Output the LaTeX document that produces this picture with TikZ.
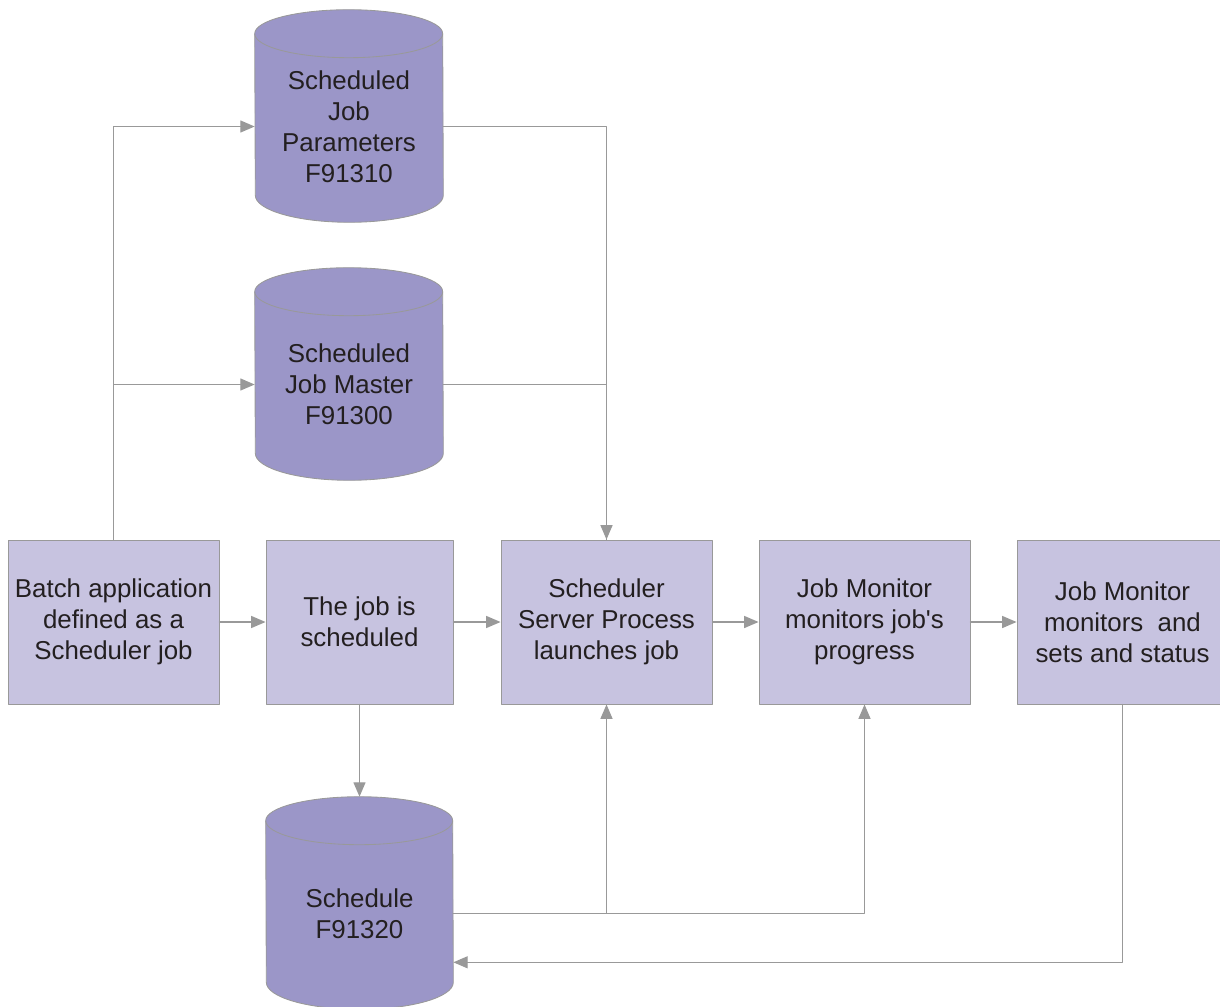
\documentclass[tikz,border=0pt]{standalone}
\usepackage{fontspec}
\setmainfont{Liberation Sans}
\usetikzlibrary{arrows.meta,calc,backgrounds}
\definecolor{boxfill}{HTML}{C7C3E0}
\definecolor{dbfill}{HTML}{9B96C8}
\definecolor{linegray}{HTML}{999999}
\definecolor{txt}{HTML}{231F20}
\begin{document}
\begin{tikzpicture}[x=0.025cm,y=0.025cm,line cap=round,line join=round,
  >={Triangle[length=0.36cm,width=0.3cm]},font=\fontsize{18.4}{22}\selectfont,
  box/.style={draw=linegray,line width=0.6pt,fill=boxfill,text=txt,align=center,
    minimum width=5.275cm,minimum height=4.1cm,inner sep=0pt},
  db/.style={text=txt,align=center,minimum width=4.7cm,minimum height=3.425cm,inner sep=0pt},
  dbline/.style={draw=linegray,line width=0.6pt},
  link/.style={draw=linegray,line width=0.9pt}]
\useasboundingbox (0,0) rectangle (1220,-1006);
% process boxes
\node[box] (bat) at (113.5,-622) {Batch application\\defined as a\\Scheduler job};
\node[box,minimum width=4.675cm] (job) at (359.5,-622) {The job is\\scheduled};
\node[box] (srv) at (606.5,-622) {Scheduler\\Server Process\\launches job};
\node[box] (mon) at (864.5,-622) {Job Monitor\\monitors job\textquotesingle s\\progress};
\node[box] (sta) at (1122.5,-622) {Job Monitor\\monitors\ \ and\\sets and status};
% tables
\node[db] (par) at (349,-126.5) {Scheduled\\Job\\Parameters\\F91310};
\node[db] (mas) at (349,-384.5) {Scheduled\\Job Master\\F91300};
\node[db,minimum width=4.675cm] (sch) at (359.5,-913.5) {Schedule\\F91320};
\begin{scope}[on background layer]
\foreach \n/\r in {par/94,mas/94,sch/93.5}{
  \draw[dbline,fill=dbfill] ($(\n.north west)+(0,24)$) arc[start angle=180,end angle=0,x radius=\r,y radius=24]
    -- (\n.south east) arc[start angle=0,end angle=-180,x radius=\r,y radius=27] -- cycle;
  \draw[dbline] ($(\n.north west)+(0,24)$) arc[start angle=180,end angle=360,x radius=\r,y radius=24];
}
\end{scope}
\coordinate (schtop) at ($(sch.north)+(0,48)$);
\coordinate (schin) at ($(sch.south east)+(0,20)$);
% connectors
\draw[link,->] (bat.north) |- (par.west);
\draw[link,->] (bat.north) |- (mas.west);
\draw[link,->] (par.east) -| (srv.north);
\draw[link] (mas.east) -| (srv.north);
\draw[link,->] (bat.east) -- (job.west);
\draw[link,->] (job.east) -- (srv.west);
\draw[link,->] (srv.east) -- (mon.west);
\draw[link,->] (mon.east) -- (sta.west);
\draw[link,->] (job.south) -- (schtop);
\draw[link,->] (sch.east) -| (srv.south);
\draw[link,->] (sch.east) -| (mon.south);
\draw[link,->] (sta.south) |- (schin);
\end{tikzpicture}
\end{document}
